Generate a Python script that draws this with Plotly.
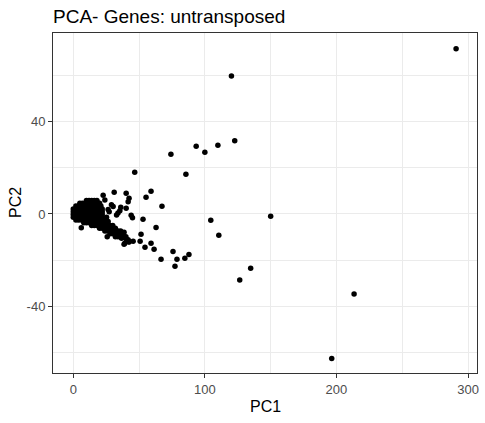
import plotly.graph_objects as go

# scattered genes
out_pc1 = [290.9, 120.2, 122.7, 109.9, 93.4, 100.0, 74.2, 46.7, 85.6, 59.1,
           40.2, 31.1, 22.7, 24.0, 55.3, 42.4, 41.7, 67.4, 36.1, 40.2,
           35.4, 29.0, 30.3, 26.5, 27.3, 34.0, 32.9, 44.0, 45.0, 53.0,
           104.5, 150.0, 62.9, 110.6, 38.6, 51.5, 40.4, 42.4, 38.6, 50.8,
           59.1, 54.5, 61.4, 75.8, 66.7, 78.8, 87.9, 84.8, 77.3, 134.8,
           126.5, 213.4, 196.4, 6.1, 41.7, 45.5, 37.9, 36.7, 39.2, 42.2,
           25.8, 38.4, 25.3, 26.5]
out_pc2 = [71.5, 59.7, 31.7, 29.7, 29.3, 26.7, 25.8, 18.0, 17.2, 9.8,
           9.0, 9.4, 8.1, 6.1, 7.2, 6.8, 5.3, 3.3, 2.9, 2.5,
           1.4, 4.0, 3.2, 1.9, 1.0, 0.4, -0.4, -0.6, -1.6, -2.3,
           -2.7, -1.0, -5.8, -9.2, -7.9, -8.8, -11.0, -12.1, -13.1, -11.8,
           -12.7, -14.4, -15.3, -16.2, -19.6, -19.6, -17.5, -19.2, -22.6, -23.5,
           -28.6, -34.6, -62.5, -6.0, -11.1, -11.8, -10.1, -10.5, -12.7, -12.0,
           -9.8, -9.5, -1.4, -3.3]

# dense cluster near the origin, row by row (PC2 value -> PC1 values)
core_rows = {
    5.8: [10, 12, 14, 16, 18],
    4.6: [5, 7, 9, 11, 13, 15, 17, 19, 20],
    3.4: [2, 4, 6, 8, 10, 12, 14, 16, 18, 20, 21],
    2.2: [0, 2, 4, 6, 8, 10, 12, 14, 16, 18, 20, 22],
    1.0: [0, 2, 4, 6, 8, 10, 12, 14, 16, 18, 20, 22],
    -0.2: [0, 2, 4, 6, 8, 10, 12, 14, 16, 18, 20, 22],
    -1.4: [0, 2, 4, 6, 8, 10, 12, 14, 16, 18, 20, 22],
    -2.6: [2, 4, 6, 8, 10, 12, 14, 16, 18, 20, 22, 24],
    -3.8: [8, 10, 12, 14, 16, 18, 20, 22, 24, 26],
    -5.0: [14, 16, 18, 20, 22, 24, 26, 28, 30],
    -6.2: [20, 22, 24, 26, 28, 30, 32],
    -7.4: [24, 26, 28, 30, 32, 34, 36],
    -8.6: [28, 30, 32, 34, 36, 38],
    -9.8: [32, 34, 36, 38, 40],
}

pc1 = list(out_pc1)
pc2 = list(out_pc2)
for yv, xs in core_rows.items():
    pc1 += xs
    pc2 += [yv] * len(xs)

x_ticks = [0, 100, 200, 300]
x_labels = ["0", "100", "200", "300"]
y_ticks = [-40, 0, 40]
y_labels = ["-40", "0", "40"]

FONT = "Liberation Sans, Arial"
W, H = 485, 423
L, R, T, B = 53, 8, 33, 50
plot_w = W - L - R
plot_h = H - T - B

fig = go.Figure(go.Scatter(
    x=pc1, y=pc2, mode="markers",
    marker=dict(color="black", size=5.5, line=dict(width=0)),
    hoverinfo="skip",
))

axis_common = dict(
    showline=True, mirror=True, linecolor="#333333", linewidth=1,
    showgrid=True, gridcolor="#EBEBEB", gridwidth=1, zeroline=False,
    ticks="outside", ticklen=4, tickcolor="#333333", tickwidth=1,
    tickfont=dict(family=FONT, size=13, color="#4D4D4D"),
    automargin=False,
)

fig.update_xaxes(
    **axis_common, range=[-15.4, 306.8], tickvals=x_ticks, ticktext=x_labels,
    minor=dict(dtick=50, tick0=0, showgrid=True, gridcolor="#EBEBEB", gridwidth=0.6, ticks=""),
)
fig.update_yaxes(
    **axis_common, range=[-68.8, 78.3], tickvals=y_ticks, ticktext=y_labels,
    minor=dict(dtick=20, tick0=0, showgrid=True, gridcolor="#EBEBEB", gridwidth=0.6, ticks=""),
)

fig.update_layout(
    width=W, height=H,
    margin=dict(l=L, r=R, t=T, b=B),
    paper_bgcolor="white", plot_bgcolor="white",
    showlegend=False,
    title=dict(text="PCA- Genes: untransposed", x=0, xref="paper", xanchor="left",
               y=1 - 16.5 / H, yref="container", yanchor="middle",
               font=dict(family=FONT, size=19, color="black")),
    annotations=[
        dict(text="PC1", x=0.5, xref="paper", y=-(406 - (H - B)) / plot_h, yref="paper",
             yanchor="middle", showarrow=False,
             font=dict(family=FONT, size=16, color="black")),
        dict(text="PC2", x=(15 - L) / plot_w, xref="paper", y=0.5, yref="paper",
             xanchor="center", textangle=-90, showarrow=False,
             font=dict(family=FONT, size=16, color="black")),
    ],
)

# drop the default 8px body margin so the figure sits at the window corner
fig.write_html("out.html", config={"displayModeBar": False},
               post_script="document.body.style.margin='0';")
